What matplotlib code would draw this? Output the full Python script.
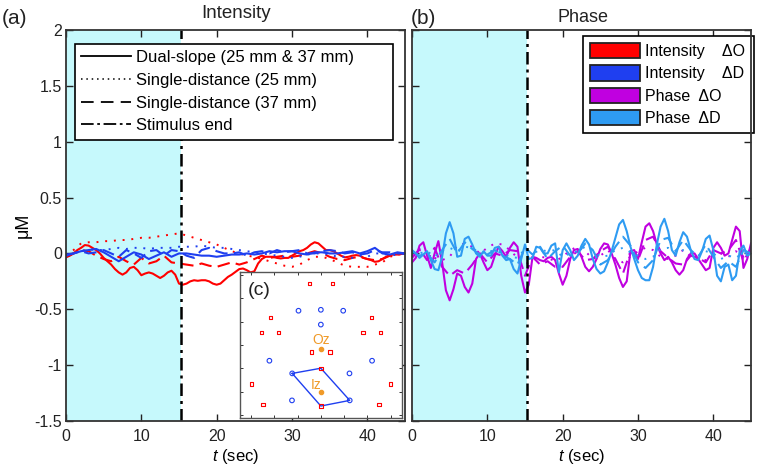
import numpy as np
import matplotlib
matplotlib.use("Agg")
import matplotlib.pyplot as plt
from matplotlib.lines import Line2D
from matplotlib.patches import Patch

plt.rcParams['font.family'] = ['Liberation Sans', 'DejaVu Sans']
plt.rcParams['axes.unicode_minus'] = False
plt.rcParams['mathtext.fontset'] = 'custom'
plt.rcParams['mathtext.it'] = 'Liberation Sans:italic'
plt.rcParams['mathtext.rm'] = 'Liberation Sans'

t = list(range(46))
t_fine = [i / 2 for i in range(91)]
stim_end = 15.2
ytick_vals = [-1.5, -1, -.5, 0, .5, 1, 1.5, 2]
ytick_labels = ['-1.5', '-1', '-0.5', '0', '0.5', '1', '1.5', '2']

int_o_dual = [-.035,-.02,.0,.03,.05,.075,.07,.05,.03,.0,
              -.04,-.07,-.1,-.14,-.17,-.19,-.17,-.13,-.12,-.15,
              -.195,-.18,-.17,-.18,-.2,-.22,-.2,-.17,-.155,-.19,
              -.27,-.28,-.27,-.25,-.24,-.245,-.24,-.24,-.25,-.27,
              -.28,-.27,-.24,-.21,-.19,-.165,-.14,-.135,-.15,-.17,
              -.16,-.09,-.05,-.03,-.03,-.03,-.04,-.045,-.04,-.04,
              -.02,.0,.02,.03,.05,.08,.1,.09,.06,.03,
              .03,.02,.0,-.02,-.035,-.03,-.02,-.015,-.02,-.04,
              -.05,-.06,-.075,-.07,-.05,-.03,-.015,-.01,-.01,-.005,
              0]
int_o_sd25 = [-.02,.03,.09,.10,.10,.11,.11,.12,.12,.13,.14,.14,.15,.16,.17,.18,.16,.14,.12,.10,.08,.05,.02,.0,-.02,-.03,-.05,-.07,-.09,-.11,-.12,-.10,-.06,-.03,-.03,-.05,-.08,-.11,-.12,-.12,-.12,-.10,-.08,-.03,-.01,0]
int_o_sd37 = [-.03,.0,.03,.02,-.02,-.05,-.07,-.03,-.07,-.10,-.04,-.09,-.07,-.02,-.08,-.09,-.10,-.11,-.09,-.11,-.12,-.10,-.08,-.10,-.08,-.05,-.02,-.04,-.03,-.02,-.03,-.02,.0,.02,.0,-.03,-.05,-.06,-.04,-.03,-.05,-.06,-.05,-.02,-.01,0]
int_d_dual = [-.02,.0,.02,.03,.04,.01,-.03,-.07,-.03,.01,-.01,-.05,-.02,.01,-.03,.0,.0,-.01,-.02,-.02,-.03,-.02,-.01,-.01,.0,-.01,.0,.02,.01,.02,.02,.0,-.01,.01,.01,.0,.0,.01,.02,.0,.02,.05,.0,-.01,.01,0]
int_d_sd25 = [-.02,.0,.02,.04,.03,.03,.04,.05,.04,.05,.05,.04,.05,.05,.05,.06,.06,.06,.07,.06,.05,.05,.04,.03,.02,.01,.0,-.01,-.02,-.03,-.04,-.03,-.01,.0,.0,-.01,-.03,-.03,-.04,-.02,-.03,.0,.0,-.02,-.01,0]
int_d_sd37 = [-.01,.0,.02,.0,.01,.03,.0,-.03,.03,.0,-.04,.02,.03,-.02,.03,.02,-.02,-.04,.03,.05,.02,.0,.0,.01,-.02,.01,.02,.0,.03,.01,.02,.03,.0,.0,.02,.03,.02,.0,.01,-.01,.0,.03,.01,.01,.0,0]

ph_o_dual = [-.08,-.04,.07,.1,-.02,-.13,.0,.11,-.08,-.33,
             -.42,-.32,-.18,-.2,-.3,-.35,-.27,-.05,.0,-.08,
             -.15,-.12,-.02,.06,.02,-.03,.05,.1,.06,-.2,
             -.35,-.28,-.03,-.04,-.06,-.07,-.04,-.03,-.06,-.18,
             -.28,-.2,-.05,.03,.04,-.03,-.12,-.16,-.12,-.05,
             .04,.09,.08,.0,-.1,-.22,-.3,-.25,.02,.03,
             -.05,.1,.24,.27,.2,.08,.0,-.06,-.03,-.08,
             -.15,-.19,-.15,-.05,.0,.0,-.05,-.1,-.15,-.13,
             .05,.1,.05,-.02,.0,.12,.24,.2,-.13,-.05,
             .09]
ph_o_sd25 = [-.02,.03,.0,-.04,-.06,-.03,.07,.09,.06,.0,.05,.09,.08,.03,-.04,-.1,-.06,-.03,-.04,-.07,-.03,.03,.06,.02,-.05,-.02,.03,-.05,-.08,-.03,.02,.05,.03,-.03,-.05,-.02,.03,-.03,-.05,-.06,-.02,.0,-.03,.02,-.03,.02]
ph_o_sd37 = [-.04,.04,-.06,.05,-.12,-.2,-.15,-.18,-.1,.0,-.08,.0,-.02,.03,.02,-.2,-.03,-.1,-.07,-.12,-.12,-.03,.02,-.06,-.05,.02,.06,-.05,-.18,.02,-.06,.12,.15,.02,-.04,-.09,-.1,-.02,-.04,-.08,.03,.0,.03,.12,-.07,.05]
ph_d_dual = [.03,.0,-.04,-.01,.02,-.06,-.14,-.15,-.03,.18,
             .28,.18,-.03,-.02,.13,.15,.08,.0,-.03,.02,
             -.02,-.02,.05,.06,-.02,-.06,-.05,-.14,-.18,-.05,
             .08,-.05,-.04,.06,.05,.0,.0,.07,.09,-.17,
             .03,.09,.03,-.06,-.02,.07,.13,.08,-.05,-.14,
             -.18,-.16,-.08,.02,.14,.26,.30,.2,.06,-.05,
             -.15,-.22,-.24,-.24,-.12,.08,.24,.31,.2,.03,
             -.02,.1,.19,.15,.03,-.05,-.06,.02,.13,.16,
             .03,-.2,-.25,-.12,-.1,-.24,-.2,.02,.07,-.02,
             .0]
ph_d_sd25 = [.01,.0,.02,-.03,.03,.05,.02,.06,.05,.0,.01,.03,.0,-.03,-.04,.04,.0,.03,.02,.03,-.03,.0,.02,.06,.03,-.03,-.02,.03,.05,.01,-.02,-.05,-.03,.04,.05,.0,.03,.01,-.02,.02,.0,-.05,-.02,-.04,.01,.0]
ph_d_sd37 = [.02,-.02,.0,-.08,.03,.13,.0,.1,.04,-.01,-.01,.03,-.02,-.05,-.1,.05,-.01,.06,-.05,.02,.07,-.02,.0,.09,.03,-.1,-.06,.06,.15,.07,-.08,-.13,-.06,.12,.14,.02,.12,.03,-.03,.08,-.03,-.13,-.07,-.12,.03,.0]

red_x = [-.5,.5,-2.17,2.18,-2.54,-1.81,1.81,2.56,-.39,.39,0,-2.99,2.99,-2.49,2.49,0]
red_y = [2.63,2.63,1.17,1.17,.53,.53,.53,.53,-.3,-.3,-.99,-1.67,-1.67,-2.53,-2.53,-2.6]
blue_x = [-.96,0,.96,0,-2.21,2.2,-1.23,1.23,-1.24,1.24]
blue_y = [1.46,1.5,1.46,.87,-.67,-.67,-1.21,-1.21,-2.36,-2.36]
loop_x = [-1.23,0,1.24,0,-1.23]
loop_y = [-1.21,-.99,-2.36,-2.6,-1.21]
oz = (0,-.16)
iz = (0,-1.99)

RED, BLUE, PURPLE, SKY = '#FF0000', '#1F3FF0', '#C000E0', '#2E9BF2'
CYAN = '#C6F9FC'
W, H = 758, 474

def box(x0, y0, x1, y1):
    return [x0/W, 1-y1/H, (x1-x0)/W, (y1-y0)/H]

fig = plt.figure(figsize=(W/100, H/100), dpi=100)
axa = fig.add_axes(box(66, 30, 405, 421))
axb = fig.add_axes(box(412, 30, 751, 421))

def style(ax):
    ax.set_xlim(0, 45)
    ax.set_ylim(-1.5, 2)
    ax.set_xticks(range(0, 50, 10))
    ax.set_yticks(ytick_vals)
    ax.set_yticklabels(ytick_labels)
    ax.tick_params(direction='in', top=True, right=True, length=5, width=1, labelsize=11.5, colors='#222222', pad=3)
    ax.tick_params(axis='x', pad=6)
    for s in ax.spines.values():
        s.set_linewidth(1.3)
        s.set_color('#333333')
        s.set_zorder(10)
    ax.axvspan(0, stim_end, color=CYAN, lw=0, zorder=0)
    ax.axvline(stim_end, color='black', ls=(0, (5, 2, 1.2, 2)), lw=1.8, zorder=5)
    ax.set_xlabel(r'$\mathit{t}$ (sec)', fontsize=12, labelpad=2)

style(axa)
style(axb)
axb.set_yticklabels([])
axa.set_ylabel('\u03bcM', fontsize=13, labelpad=2)

LS_DASH = (0, (6, 3))
LS_DOT = (0, (1, 3.5))
for y, ls, lw in [(int_o_sd25, LS_DOT, 1.4), (int_o_sd37, LS_DASH, 1.5)]:
    axa.plot(t, y, color=RED, ls=ls, lw=lw, zorder=3)
axa.plot(t_fine, int_o_dual, color=RED, lw=1.5, zorder=3)
for y, ls, lw in [(int_d_sd25, LS_DOT, 1.4), (int_d_sd37, LS_DASH, 1.5), (int_d_dual, '-', 1.5)]:
    axa.plot(t, y, color=BLUE, ls=ls, lw=lw, zorder=3)
for y, ls, lw in [(ph_o_sd25, LS_DOT, 1.4), (ph_o_sd37, LS_DASH, 1.5)]:
    axb.plot(t, y, color=PURPLE, ls=ls, lw=lw, zorder=3)
axb.plot(t_fine, ph_o_dual, color=PURPLE, lw=1.5, zorder=3)
for y, ls, lw in [(ph_d_sd25, LS_DOT, 1.4), (ph_d_sd37, LS_DASH, 1.5)]:
    axb.plot(t, y, color=SKY, ls=ls, lw=lw, zorder=3)
axb.plot(t_fine, ph_d_dual, color=SKY, lw=1.5, zorder=3)

fig.text(2/W, 1-18/H, '(a)', fontsize=15, va='center', color='#222222')
fig.text(411/W, 1-18/H, '(b)', fontsize=15, va='center', color='#222222')
fig.text(236/W, 1-14/H, 'Intensity', fontsize=13.5, ha='center', va='center', color='#222222')
fig.text(583/W, 1-18/H, 'Phase', fontsize=13, ha='center', va='center', color='#222222')

h1 = [Line2D([], [], color='k', lw=1.3),
      Line2D([], [], color='k', lw=1.1, ls=(0, (1, 2.5))),
      Line2D([], [], color='k', lw=1.3, ls=(0, (7, 4))),
      Line2D([], [], color='k', lw=1.3, ls=(0, (7, 2, 1.5, 2)))]
l1 = axa.legend(h1, ['Dual-slope (25 mm & 37 mm)', 'Single-distance (25 mm)',
                     'Single-distance (37 mm)', 'Stimulus end'],
                loc='upper left', bbox_to_anchor=(9/339, 1-107/391, 318/339, 93/391), mode='expand',
                fontsize=12, handlelength=3.0, handletextpad=.3, labelspacing=.46,
                borderpad=.38, borderaxespad=0, fancybox=False, framealpha=1, edgecolor='k')
l1.get_frame().set_linewidth(1.2)
l1.set_zorder(8)

h2 = [Patch(facecolor=c, edgecolor='#222222', lw=1.3) for c in (RED, BLUE, PURPLE, SKY)]
l2 = axb.legend(h2, ['Intensity    \u0394O', 'Intensity    \u0394D', 'Phase  \u0394O', 'Phase  \u0394D'],
                loc='upper left', bbox_to_anchor=(171/339, 1-101/391, 171/339, 95/391), mode='expand',
                fontsize=11.5, handlelength=3.15, handleheight=1.1, handletextpad=.3, labelspacing=.4,
                borderpad=.42, borderaxespad=0, fancybox=False, framealpha=1, edgecolor='k')
l2.get_frame().set_linewidth(1.2)
l2.set_zorder(8)

axc = fig.add_axes(box(239.7, 272, 402, 418), zorder=6)
axc.set_xlim(-3.486, 3.486)
axc.set_ylim(-3.11, 3.11)
axc.set_xticks(range(-3, 4))
axc.set_yticks(range(-3, 4))
axc.tick_params(direction='in', top=True, right=True, length=2, width=.7, labelbottom=False, labelleft=False, color='#333333')
for s in axc.spines.values():
    s.set_linewidth(1.0)
    s.set_color('#555555')
axc.plot(loop_x, loop_y, color=BLUE, lw=1.0, zorder=2)
axc.scatter(red_x, red_y, marker='s', s=6, facecolor='none', edgecolor=RED, linewidth=.8, zorder=3)
axc.scatter(blue_x, blue_y, marker='o', s=11, facecolor='none', edgecolor=BLUE, linewidth=.8, zorder=3)
axc.scatter([oz[0], iz[0]], [oz[1], iz[1]], s=9, color='#F09A28', zorder=4)
axc.annotate('Oz', oz, xytext=(0, 1), textcoords='offset points', color='#F09A28', fontsize=10, ha='center', va='bottom')
axc.annotate('Iz', iz, xytext=(-7, 0), textcoords='offset points', color='#F09A28', fontsize=10, ha='left', va='bottom')
axc.text(.05, .93, '(c)', transform=axc.transAxes, fontsize=14, va='top', color='#222222')

fig.savefig('out.png', dpi=100)
